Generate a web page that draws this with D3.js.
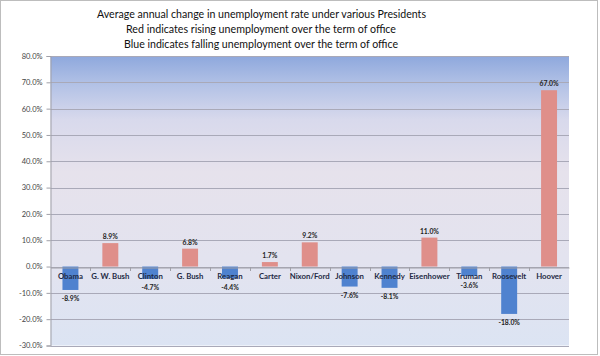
<!DOCTYPE html>
<html><head><meta charset="utf-8">
<script src="https://cdn.jsdelivr.net/npm/d3@7"></script>
<style>body{margin:0;background:#fff}svg{display:block}</style>
</head><body>
<svg id="c" width="600" height="356"></svg>
<script>
const presidents = ["Obama","G. W. Bush","Clinton","G. Bush","Reagan","Carter","Nixon/Ford","Johnson","Kennedy","Eisenhower","Truman","Roosevelt","Hoover"];
const changes = [-8.9, 8.9, -4.7, 6.8, -4.4, 1.7, 9.2, -7.6, -8.1, 11.0, -3.6, -18.0, 67.0];
const yTicks = [-30,-20,-10,0,10,20,30,40,50,60,70,80];
const titleLines = ["Average annual change in unemployment rate under various Presidents","Red indicates rising unemployment over the term of office","Blue indicates falling unemployment over the term of office"];

const svg = d3.select("#c");
const m = {l:50.5, r:569, t:56, b:345.5};
const F = "Lato, 'Open Sans', sans-serif";

svg.append("rect").attr("x",0.5).attr("y",0.5).attr("width",597).attr("height",354)
  .attr("fill","#fff").attr("stroke","#bdbdbd");

const defs = svg.append("defs");
const g = defs.append("linearGradient").attr("id","bg").attr("x1",0).attr("y1",0).attr("x2",0).attr("y2",1);
[[0,"#8ea8dd"],[0.1,"#b3c2e6"],[0.22,"#d8d9ec"],[0.4,"#e6e2ec"],[0.7,"#e3e3ef"],[1,"#dce4f3"]]
  .forEach(([o,c])=>g.append("stop").attr("offset",o).attr("stop-color",c));

const x = d3.scaleBand().domain(presidents).range([m.l, m.r]).paddingInner(0.6).paddingOuter(0.3);
const xb = d3.scaleBand().domain(presidents).range([m.l, m.r]);
const y = d3.scaleLinear().domain([-30,80]).range([m.b, m.t]);

svg.append("rect").attr("x",m.l).attr("y",m.t).attr("width",m.r-m.l).attr("height",m.b-m.t).attr("fill","url(#bg)");

svg.append("g").selectAll("line").data(yTicks).join("line")
  .attr("x1",m.l).attr("x2",m.r).attr("y1",d=>Math.round(y(d))+0.5).attr("y2",d=>Math.round(y(d))+0.5)
  .attr("stroke","#a9a9b8").attr("stroke-width",1);

const yAxis = d3.axisLeft(y).tickValues(yTicks).tickSize(4).tickFormat(d=>d.toFixed(1)+"%");
const ya = svg.append("g").attr("transform",`translate(${m.l},0)`).call(yAxis);
ya.select(".domain").attr("stroke","#a0a0a8");
ya.selectAll(".tick line").attr("stroke","#a0a0a8");
ya.selectAll("text").attr("font-family",F).attr("font-size",7.5).attr("fill","#444").attr("dx",-1);

svg.append("g").selectAll("rect").data(presidents).join("rect")
  .attr("x",(d)=>x(d)).attr("width",x.bandwidth())
  .attr("y",(d,i)=>y(Math.max(0,changes[i])))
  .attr("height",(d,i)=>Math.abs(y(changes[i])-y(0)))
  .attr("fill",(d,i)=>changes[i]>=0?"#df8f8a":"#4f82cf");

const xa = svg.append("g").attr("transform",`translate(0,${Math.round(y(0))+0.5})`)
  .call(d3.axisBottom(xb).tickSize(0).tickFormat(""));
xa.select(".domain").attr("stroke","#a0a0a8");
svg.append("g").selectAll("line").data(presidents.slice(1)).join("line")
  .attr("x1",d=>Math.round(xb(d))+0.5).attr("x2",d=>Math.round(xb(d))+0.5)
  .attr("y1",Math.round(y(0))).attr("y2",Math.round(y(0))+4).attr("stroke","#a0a0a8");

svg.append("g").selectAll("text").data(presidents).join("text")
  .attr("x",d=>xb(d)+xb.bandwidth()/2).attr("y",y(0)+12.8)
  .attr("text-anchor","middle").attr("font-family",F).attr("font-weight","bold")
  .attr("font-size",7.8).attr("fill","#1f2a44").text(d=>d);

svg.append("g").selectAll("text").data(presidents).join("text")
  .attr("x",d=>xb(d)+xb.bandwidth()/2)
  .attr("y",(d,i)=>changes[i]>=0? y(changes[i])-4 : y(changes[i])+11.5)
  .attr("text-anchor","middle").attr("font-family",F).attr("font-weight","bold")
  .attr("font-size",6.8).attr("fill","#222").text((d,i)=>changes[i].toFixed(1)+"%");

const tl = [[261.5,18,329],[261,33,270],[261,48,274]];
svg.append("g").selectAll("text").data(titleLines).join("text")
  .attr("x",(d,i)=>tl[i][0]).attr("y",(d,i)=>tl[i][1]).attr("text-anchor","middle")
  .attr("textLength",(d,i)=>tl[i][2]).attr("lengthAdjust","spacingAndGlyphs")
  .attr("font-family",F).attr("font-size",12).attr("fill","#111").text(d=>d);
</script>
</body></html>
